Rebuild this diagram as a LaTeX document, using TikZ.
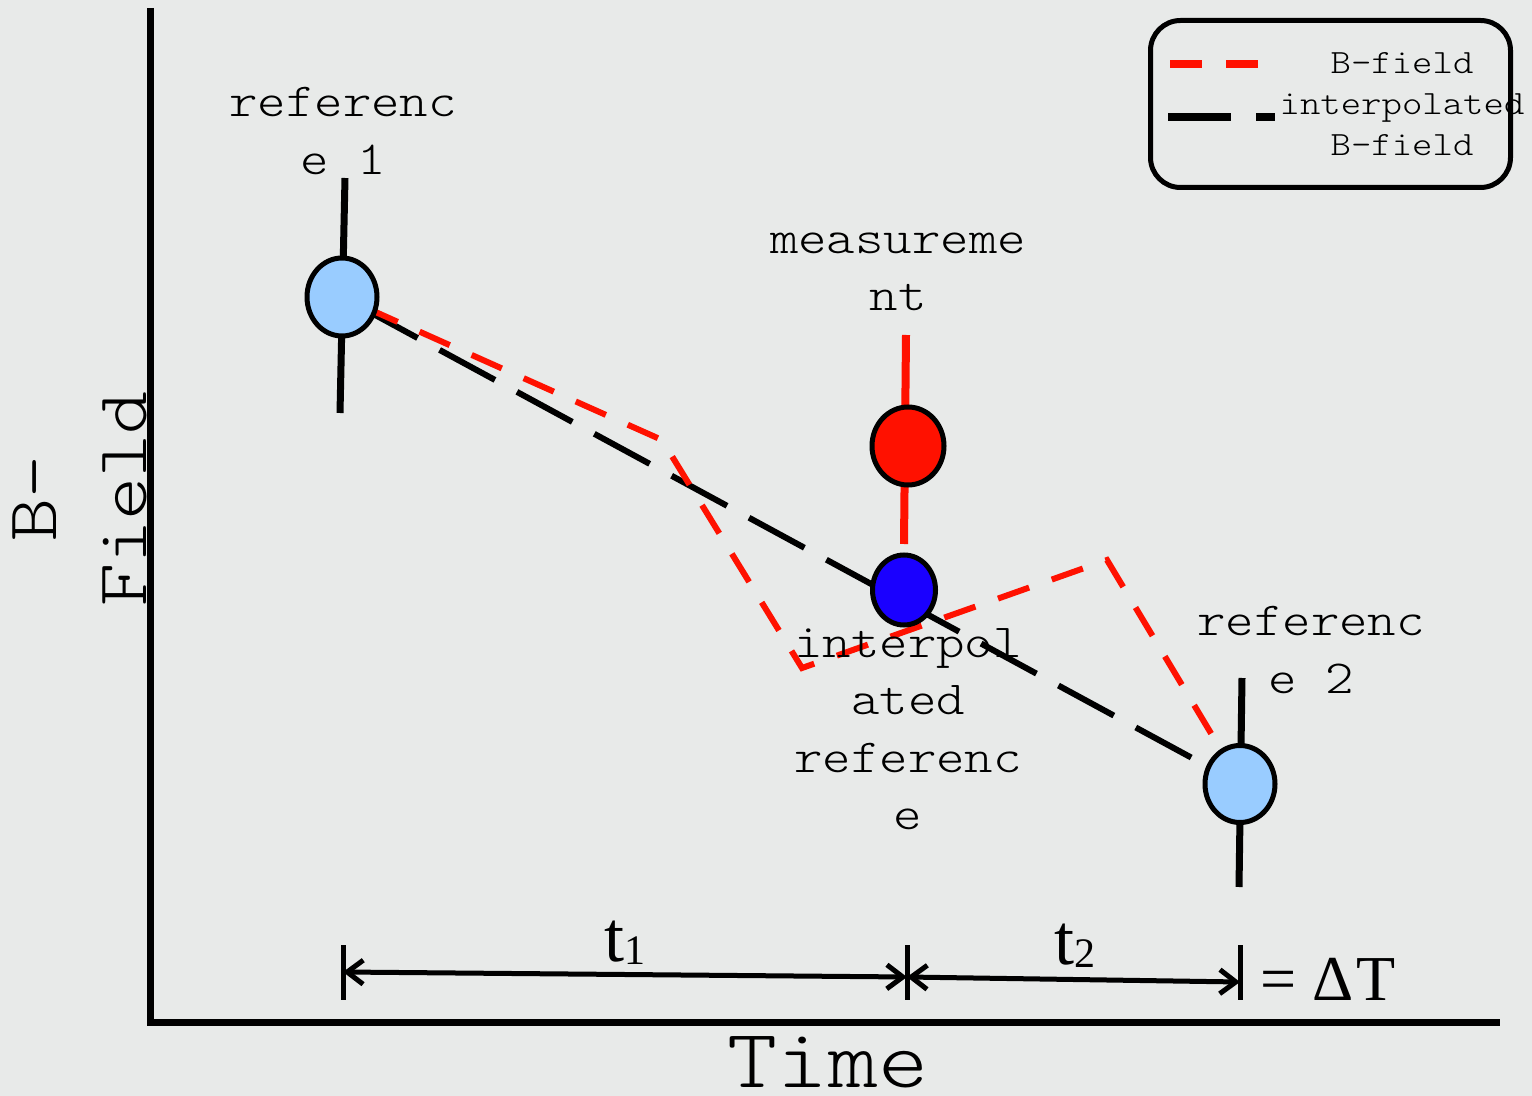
\documentclass[tikz,border=0pt]{standalone}
\usepackage{fontspec}
\setmainfont{Liberation Serif}
\setmonofont{lmmonolt10-regular.otf}[FakeStretch=1.143]
\usepackage{xcolor}
\usepackage{tikz}
\usetikzlibrary{
    arrows.meta, positioning, shapes.geometric, backgrounds
}
\definecolor{canvas}{HTML}{E8EAE9}
\definecolor{refblue}{HTML}{99CCFF}
\definecolor{interpblue}{HTML}{1A00FF}
\definecolor{measred}{HTML}{FF1100}

\begin{document}
\begin{tikzpicture}[x=0.5pt, y=-0.5pt,
    every node/.style={font=\ttfamily},
    datadot/.style={
        ellipse, draw=black, line width=2.5pt,
        inner sep=0pt,
    },
    errbar/.style={line width=3.5pt},
    axisline/.style={line width=3.5pt, line join=miter},
    pointtext/.style={
        align=center, inner sep=0pt,
        font=\ttfamily\fontsize{23.7}{28.7}\selectfont,
    },
    interpline/.style={
        line width=3pt,
        dash pattern=on 31.5pt off 12.5pt, dash phase=32.5pt,
    },
    fieldline/.style={
        measred, line width=3pt,
        dash pattern=on 16.5pt off 12pt, dash phase=14.5pt,
    },
    spanarrow/.style={
        line width=2.5pt,
        {Straight Barb[length=8pt, width=12pt]}-{Straight Barb[length=8pt, width=12pt]},
    },
    tickmark/.style={line width=2.5pt},
]
\useasboundingbox (0,0) rectangle (1532,1096);

% ── Data points ────────────────────────────────────────────────────────
\node[datadot, fill=refblue, minimum width=35pt, minimum height=39pt] (ref1) at (342,297) {};
\node[datadot, fill=measred, minimum width=36pt, minimum height=39pt] (meas) at (908,446) {};
\node[datadot, fill=interpblue, minimum width=31.5pt, minimum height=35pt] (interp) at (904,590) {};
\node[datadot, fill=refblue, minimum width=35pt, minimum height=38.5pt] (ref2) at (1240,784) {};

% ── Point labels ───────────────────────────────────────────────────────
\node[pointtext] (ref1 text) at (343,131) {referenc\\e 1};
\node[pointtext] (meas text) at (898,272) {measureme\\nt};
\node[pointtext] (interp text) at (908,729) {interpol\\ated\\referenc\\e};
\node[pointtext] (ref2 text) at (1311,650) {referenc\\e 2};

% ── Axes ───────────────────────────────────────────────────────────────
\coordinate (ytop) at (150,8);
\coordinate (origin) at (150,1022);
\coordinate (xend) at (1500,1022);
\draw[axisline] (ytop) -- (origin) -- (xend);
\node[rotate=90, align=center, font=\ttfamily\fontsize{35.8}{45}\selectfont] (ylabel) at (80,499) {B-\\Field};
\node[anchor=base, font=\ttfamily\fontsize{41.7}{42}\selectfont] (xlabel) at (828,1087) {Time};

% ── Time spans ─────────────────────────────────────────────────────────
\coordinate (s1) at (343,972);
\coordinate (s2) at (907,977);
\coordinate (s3) at (1240,982);
\draw[tickmark] (343,945) -- (343,1000);
\draw[tickmark] (907,945) -- (907,1000);
\draw[tickmark] (1240,945) -- (1240,1000);
\draw[spanarrow] (s1) -- (s2);
\draw[spanarrow] (s2) -- (s3);
\node[anchor=base, font=\rmfamily\fontsize{36}{36}\selectfont] (t1) at (625,961)
    {t\raisebox{-1.5pt}{\fontsize{21}{21}\selectfont 1}};
\node[anchor=base, font=\rmfamily\fontsize{36}{36}\selectfont] (t2) at (1075,964)
    {t\raisebox{-1.5pt}{\fontsize{21}{21}\selectfont 2}};
\node[anchor=base west, font=\rmfamily\fontsize{32}{33}\selectfont] (dT) at (1253,1000) {= Δ\kern1.5pt T};

% ── Legend ─────────────────────────────────────────────────────────────
\node[draw, line width=2.5pt, rounded corners=15pt, inner sep=0pt,
    minimum width=180pt, minimum height=83.5pt] (legend) at (1330.5,104) {};
\node[align=center, inner sep=0pt, font=\ttfamily\fontsize{17}{20.5}\selectfont]
    (legend text) at (1402,104) {B-field\\interpolated\\B-field};
\coordinate (keyA) at (1170,64);
\coordinate (keyA end) at (1258,64);
\coordinate (keyB) at (1168,117);
\coordinate (keyB end) at (1275,117);
\draw[measred, line width=4pt, dash pattern=on 16pt off 12pt] (keyA) -- (keyA end);
\draw[line width=4.2pt, dash pattern=on 31.5pt off 12.5pt] (keyB) -- (keyB end);

% ── Lines behind the points ────────────────────────────────────────────
\begin{scope}[on background layer]
    \fill[canvas] (0,0) rectangle (1532,1096);
    \draw[errbar] (345,178) -- (340,413);
    \draw[errbar, measred, line width=4pt] (906,335) -- (904,544);
    \draw[errbar] (1242,678) -- (1239,887);
    \draw[interpline] (ref1.center) -- (ref2.center);
    \coordinate (k1) at (662,440);
    \coordinate (k2) at (802,668);
    \coordinate (k3) at (1107,560);
    \coordinate (rend) at (1212,735);
    \draw[fieldline] (ref1.center) -- (k1) -- (k2) -- (k3) -- (rend);
\end{scope}

\end{tikzpicture}
\end{document}
